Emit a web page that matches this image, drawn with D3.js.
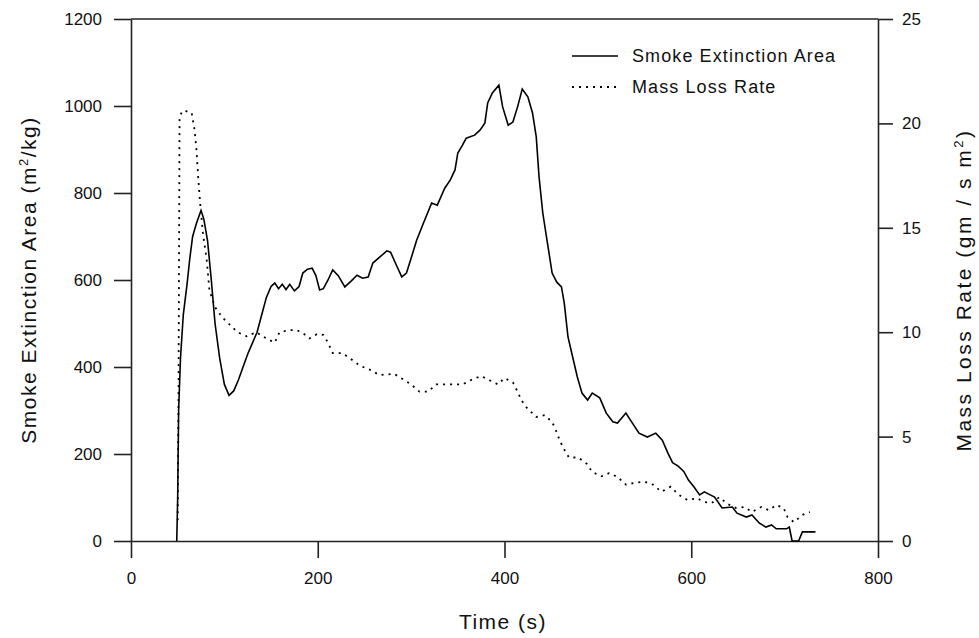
<!DOCTYPE html>
<html>
<head>
<meta charset="utf-8">
<script src="https://cdn.jsdelivr.net/npm/d3@7"></script>
<style>
  body { margin: 0; background: #fff; }
  svg { display: block; font-family: "Liberation Sans", Arial, sans-serif; }
  .axis text { font-size: 17px; fill: #111; }
  .axis path, .axis line { stroke: #222; stroke-width: 1.6; }
  .title { font-size: 21px; letter-spacing: 1.5px; fill: #111; }
  .legend text { font-size: 18px; letter-spacing: 1.1px; fill: #111; }
</style>
</head>
<body>
<div id="chart"></div>
<script>
// smoke extinction area (left axis)
let smokeTime = [49, 50, 51, 53, 56, 60, 63, 66, 70, 75, 78, 82, 86, 90, 95, 100, 105, 110, 115, 120,
  125, 130, 135, 140, 145, 150, 154, 158, 162, 166, 170, 175, 180, 184, 189, 194, 198, 202, 206, 211,
  216, 222, 229, 236, 242, 248, 254, 259, 266, 274, 278, 284, 290, 295, 300, 306, 314, 322, 328, 336,
  342, 347, 350, 355, 359, 368, 374, 379, 382, 387, 394, 398, 404, 409, 414, 419, 425, 430, 434, 437,
  441, 446, 451, 456, 461, 464, 468, 473, 478, 483, 489, 494, 502, 509, 516, 521, 530, 537, 544, 553,
  562, 569, 575, 580, 586, 592, 597, 603, 609, 614, 625, 633, 644, 649, 659, 665, 673, 680, 686, 691,
  702, 705, 708, 715, 719, 733];
let smokeArea = [0, 100, 300, 420, 520, 590, 650, 700, 730, 760, 740, 690, 600, 500, 420, 360, 335, 345, 370, 400,
  430, 455, 480, 520, 560, 585, 593, 580, 590, 578, 590, 575, 585, 616, 625, 627, 610, 577, 580, 600,
  623, 610, 584, 598, 611, 604, 607, 639, 652, 667, 664, 635, 607, 616, 650, 692, 735, 777, 772, 811,
  830, 853, 892, 910, 926, 933, 945, 961, 1007, 1030, 1048, 998, 956, 963, 998, 1039, 1021, 984, 929, 837,
  754, 685, 616, 595, 584, 547, 469, 423, 377, 340, 324, 340, 329, 294, 274, 271, 294, 271, 248, 239,
  248, 232, 202, 180, 172, 160, 140, 124, 106, 113, 101, 76, 78, 64, 55, 60, 41, 32, 37, 28,
  28, 32, 0, 0, 21, 21];

// mass loss rate (right axis)
let massTime = [50, 51, 52, 55, 58, 65, 68, 70, 72, 74, 77, 81, 84, 90, 98, 106, 114, 124, 134, 145,
  154, 159, 170, 177, 183, 191, 199, 206, 211, 216, 226, 233, 245, 256, 266, 282, 293, 300, 309, 318,
  327, 338, 355, 366, 375, 384, 393, 400, 409, 414, 418, 424, 434, 443, 451, 455, 459, 463, 469, 479,
  488, 494, 504, 512, 521, 530, 541, 550, 559, 568, 578, 587, 596, 606, 614, 622, 630, 639, 648, 657,
  665, 675, 683, 691, 699, 703, 710, 719, 727];
let massRate = [1.0, 8.0, 20.3, 20.6, 20.6, 20.5, 19.7, 18.8, 17.4, 16.2, 14.75, 13.5, 12.0, 11.2, 10.7, 10.35, 10.0, 9.8, 10.0, 9.7,
  9.5, 10.0, 10.1, 10.1, 10.0, 9.7, 9.9, 9.87, 9.5, 9.0, 9.0, 8.8, 8.4, 8.2, 7.95, 8.0, 7.7, 7.5, 7.15, 7.15,
  7.5, 7.5, 7.5, 7.75, 7.9, 7.7, 7.5, 7.8, 7.6, 7.15, 6.75, 6.37, 5.94, 6.03, 5.7, 5.3, 4.84, 4.45, 4.0, 4.0,
  3.7, 3.3, 3.1, 3.25, 3.07, 2.7, 2.8, 2.84, 2.7, 2.36, 2.6, 2.2, 1.96, 2.05, 1.87, 1.82, 2.1, 1.77, 1.58, 1.63,
  1.39, 1.63, 1.48, 1.72, 1.58, 1.15, 0.9, 1.25, 1.39];

let xTicks = [0, 200, 400, 600, 800];
let leftTicks = [0, 200, 400, 600, 800, 1000, 1200];
let rightTicks = [0, 5, 10, 15, 20, 25];
let seriesNames = ["Smoke Extinction Area", "Mass Loss Rate"];

var W = 979, H = 638;
var m = {left: 131, right: 878, top: 19, bottom: 541};

let svg = d3.select("#chart").append("svg").attr("width", W).attr("height", H);

let x = d3.scaleLinear().domain([0, 800]).range([m.left, m.right]);
let yL = d3.scaleLinear().domain([0, 1200]).range([m.bottom, m.top]);
let yR = d3.scaleLinear().domain([0, 25]).range([m.bottom, m.top]);
let fmt = d3.format("d");

// frame top
svg.append("line").attr("x1", m.left).attr("x2", m.right).attr("y1", m.top).attr("y2", m.top)
  .attr("stroke", "#222").attr("stroke-width", 1.6);

svg.append("g").attr("class", "axis").attr("transform", `translate(0,${m.bottom})`)
  .call(d3.axisBottom(x).tickValues(xTicks).tickFormat(fmt).tickSize(17).tickSizeOuter(0).tickPadding(14));
svg.append("g").attr("class", "axis").attr("transform", `translate(${m.left},0)`)
  .call(d3.axisLeft(yL).tickValues(leftTicks).tickFormat(fmt).tickSize(17).tickSizeOuter(0).tickPadding(12));
svg.append("g").attr("class", "axis").attr("transform", `translate(${m.right},0)`)
  .call(d3.axisRight(yR).tickValues(rightTicks).tickFormat(fmt).tickSize(15).tickSizeOuter(0).tickPadding(9));

let smoke = smokeTime.map((t, i) => [t, smokeArea[i]]);
let mass = massTime.map((t, i) => [t, massRate[i]]);

svg.append("path").datum(smoke)
  .attr("fill", "none").attr("stroke", "#000").attr("stroke-width", 1.6)
  .attr("d", d3.line().x(d => x(d[0])).y(d => yL(d[1])));
svg.append("path").datum(mass)
  .attr("fill", "none").attr("stroke", "#000").attr("stroke-width", 1.8)
  .attr("stroke-dasharray", "2,5")
  .attr("d", d3.line().x(d => x(d[0])).y(d => yR(d[1])));

// axis titles
svg.append("text").attr("class", "title").attr("x", 503).attr("y", 629)
  .attr("text-anchor", "middle").text("Time (s)");

let lt = svg.append("text").attr("class", "title").attr("text-anchor", "middle")
  .attr("transform", "translate(36,280) rotate(-90)");
lt.append("tspan").text("Smoke Extinction Area (m");
lt.append("tspan").attr("dy", -8).attr("font-size", 13).text("2");
lt.append("tspan").attr("dy", 8).text("/kg)");

let rt = svg.append("text").attr("class", "title").attr("text-anchor", "middle")
  .style("letter-spacing", "2.5px")
  .attr("transform", "translate(971,290) rotate(-90)");
rt.append("tspan").text("Mass Loss Rate (gm / s m");
rt.append("tspan").attr("dy", -8).attr("font-size", 13).text("2");
rt.append("tspan").attr("dy", 8).text(")");

// legend
let lg = svg.append("g").attr("class", "legend");
seriesNames.forEach((name, i) => {
  let yy = 56 + i * 31;
  lg.append("line").attr("x1", 572).attr("x2", 618).attr("y1", yy).attr("y2", yy)
    .attr("stroke", "#000").attr("stroke-width", i ? 1.8 : 1.6)
    .attr("stroke-dasharray", i ? "2,5" : null);
  lg.append("text").attr("x", 632).attr("y", yy).attr("dy", "0.35em").text(name);
});
</script>
</body>
</html>
